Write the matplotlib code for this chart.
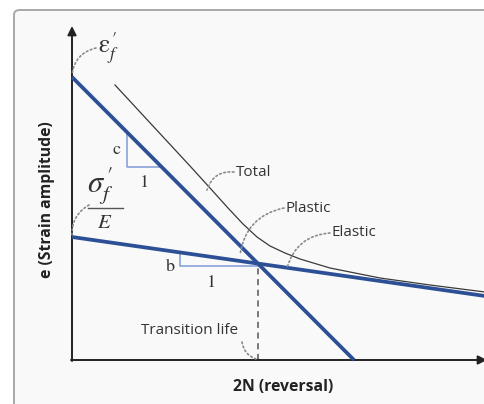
import numpy as np
import matplotlib
matplotlib.use("Agg")
import matplotlib.pyplot as plt
from matplotlib.patches import FancyBboxPatch

plt.rcParams['font.family'] = ['Open Sans', 'DejaVu Sans']
plt.rcParams['mathtext.fontset'] = 'stix'

# schematic strain-life diagram, units are arbitrary (log e vs log 2N)
elastic_x = [0, 413]
elastic_y = [123, 64]
plastic_x = [0, 282]
plastic_y = [283, 0]
total_x = [43, 68, 93, 118, 138, 156, 171, 185, 198, 213, 228, 258, 308, 358, 413]
total_y = [275, 248, 221, 194, 172, 152, 136, 123, 114, 107, 101, 92, 82, 75, 68]

# slope triangles (corner point)
tri_c = (55, 193)
tri_b = (108, 94)

blue = '#2d4f95'
light_blue = '#7f9bd6'
gray_dot = '#8a8a8a'
txt = '#333333'

fig = plt.figure(figsize=(4.85, 4.04), dpi=100)
frame = FancyBboxPatch((14 / 485, -0.2), 1.2, 1.2 - 10 / 404,
                       boxstyle='round,pad=0,rounding_size=0.012',
                       transform=fig.transFigure, facecolor='#f9f9f9',
                       edgecolor='#a8a8a8', lw=1.4, zorder=-5)
fig.patches.append(frame)

ax = fig.add_axes([72 / 485, 44 / 404, 413 / 485, 330 / 404])
ax.set_xlim(0, 413)
ax.set_ylim(0, 330)
ax.axis('off')

# axes with arrows
ax.annotate('', xy=(0, 334), xytext=(0, -1),
            arrowprops=dict(arrowstyle='-|>', color='#222222', lw=1.4, mutation_scale=13,
                            shrinkA=0, shrinkB=0), annotation_clip=False)
ax.annotate('', xy=(415, 0), xytext=(-1, 0),
            arrowprops=dict(arrowstyle='-|>', color='#222222', lw=1.4, mutation_scale=13,
                            shrinkA=0, shrinkB=0), annotation_clip=False)

# lines
ax.plot(elastic_x, elastic_y, color=blue, lw=2.7, solid_capstyle='butt', clip_on=False, zorder=3)
ax.plot(plastic_x, plastic_y, color=blue, lw=2.7, solid_capstyle='butt', clip_on=False, zorder=3)
ax.plot(total_x, total_y, color='#3a3a3a', lw=0.9, clip_on=False, zorder=2)

# intersection -> transition life
ke = (elastic_y[1] - elastic_y[0]) / (elastic_x[1] - elastic_x[0])
kp = (plastic_y[1] - plastic_y[0]) / (plastic_x[1] - plastic_x[0])
xt = (elastic_y[0] - plastic_y[0]) / (kp - ke)
yt = elastic_y[0] + ke * xt
ax.plot([xt, xt], [0, yt], color='#555555', lw=1.1, ls=(0, (4, 3)), zorder=1)

# slope triangles
cx, cy = tri_c
ax.plot([cx, cx, (cy - plastic_y[0]) / kp],
        [plastic_y[0] + kp * cx, cy, cy], color=light_blue, lw=1.1, zorder=2)
bx, by = tri_b
ax.plot([bx, bx, xt], [elastic_y[0] + ke * bx, by, by], color=light_blue, lw=1.1, zorder=2)

serif = dict(family='STIXGeneral', color=txt)
ax.text(cx - 6, cy + 17, 'c', fontsize=13, ha='right', va='center', **serif)
ax.text(cx + 18, cy - 16, '1', fontsize=13, ha='center', va='center', **serif)
ax.text(bx - 5, by - 1, 'b', fontsize=13, ha='right', va='center', **serif)
ax.text(bx + 32, by - 17, '1', fontsize=13, ha='center', va='center', **serif)

# intercept labels
ax.text(26, 312, r'$\mathrm{\epsilon}_f^{\,\prime}$', fontsize=18, ha='left', va='center', color=txt)
ax.text(15, 174, r'$\sigma_f^{\,\prime}$', fontsize=22, ha='left', va='center', color=txt)
ax.plot([16, 51], [152, 152], color='#555555', lw=1.0, clip_on=False)
ax.text(33, 137, r'$E$', fontsize=15, ha='center', va='center', color=txt)

dot = dict(arrowstyle='-', color=gray_dot, lw=1.2, ls=(0, (1, 1.6)), shrinkA=0, shrinkB=0)
ax.annotate('', xy=(0, 285), xytext=(24, 312),
            arrowprops=dict(connectionstyle='arc3,rad=0.35', **dot), annotation_clip=False)
ax.annotate('', xy=(0, 125), xytext=(17, 155),
            arrowprops=dict(connectionstyle='arc3,rad=0.3', **dot), annotation_clip=False)

# curve labels
lab = dict(fontsize=11, color=txt, va='center', ha='left')
ax.text(164, 188, 'Total', **lab)
ax.annotate('', xy=(135, 170), xytext=(162, 188),
            arrowprops=dict(connectionstyle='arc3,rad=0.4', **dot))
ax.text(214, 152, 'Plastic', **lab)
ax.annotate('', xy=(168, 105), xytext=(212, 152),
            arrowprops=dict(connectionstyle='arc3,rad=0.35', **dot))
ax.text(260, 127, 'Elastic', **lab)
ax.annotate('', xy=(215, 92), xytext=(258, 127),
            arrowprops=dict(connectionstyle='arc3,rad=0.35', **dot))
ax.text(118, 29, 'Transition life', fontsize=11, color=txt, va='center', ha='center')
ax.annotate('', xy=(xt - 2, 1), xytext=(170, 18),
            arrowprops=dict(connectionstyle='arc3,rad=0.3', **dot))

# axis titles
ax.text(-25, 160, 'e (Strain amplitude)', rotation=90, fontsize=11.3, fontweight='bold',
        color='#222222', ha='center', va='center')
ax.text(211, -27, '2N (reversal)', fontsize=11.3, fontweight='bold',
        color='#222222', ha='center', va='center')

fig.savefig('out.png', dpi=100, facecolor='white')
